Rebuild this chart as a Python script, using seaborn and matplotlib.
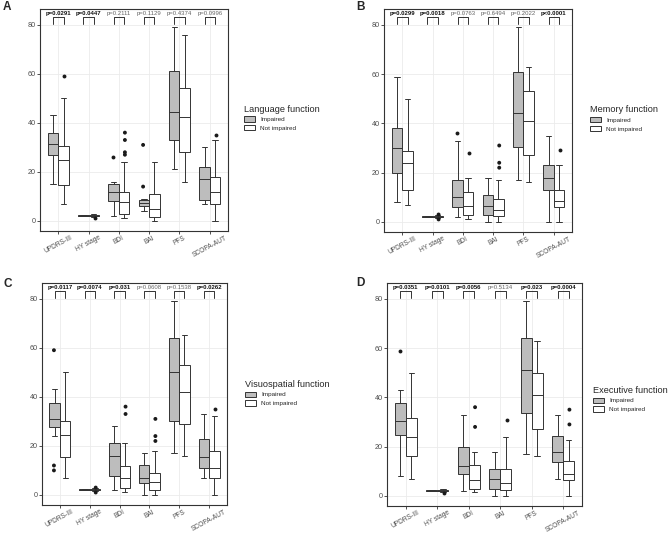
import pandas as pd
import matplotlib.pyplot as plt
import seaborn as sns

sns.set_theme(style="whitegrid")
plt.rcParams["font.family"] = ["Liberation Sans", "DejaVu Sans"]

VARIABLES = ["UPDRS-III", "HY stage", "BDI", "BAI", "PFS", "SCOPA-AUT"]
GROUPS = ["Impaired", "Not impaired"]

# box stats per variable: [lower whisker, Q1, median, Q3, upper whisker]
lang_imp = [[15, 27, 31.5, 36, 43], [2, 2, 2, 2.5, 2.5], [2, 8, 12, 15, 16],
            [4, 6, 7.3, 8.4, 9], [21, 33, 44.5, 61, 79], [7, 8.6, 17.3, 22, 30]]
lang_not = [[7, 14.5, 25, 30.5, 50], [1.5, 2, 2, 2.5, 3], [1, 3, 7.6, 12, 24],
            [0, 1.8, 4.8, 11, 24], [16, 28.3, 42.3, 54, 76], [0, 7, 12, 18, 33]]
lang_fl_imp = [[], [], [26], [31, 14], [], []]
lang_fl_not = [[59], [1], [36, 33, 28, 27], [], [], [35]]
lang_p = ["p=0.0291", "p=0.0447", "p=0.2111", "p=0.1129", "p=0.4374", "p=0.0996"]

mem_imp = [[8, 20, 30, 38, 59], [2, 2, 2, 2.5, 2.5], [2, 6, 10, 17, 33],
           [0, 2.6, 6.3, 11, 18], [17, 30.4, 44, 61, 79], [0, 13, 18, 23, 35]]
mem_not = [[7, 13, 24, 28.7, 50], [1.5, 2, 2, 2.5, 3], [1, 3, 6.3, 12, 18],
           [0, 2.3, 5, 9.3, 17], [16, 27, 41, 53, 63], [0, 6, 8.4, 13, 23]]
mem_fl_imp = [[], [], [36], [], [], []]
mem_fl_not = [[], [1, 3], [28], [31, 24, 22], [], [29]]
mem_p = ["p=0.0299", "p=0.0018", "p=0.0763", "p=0.6494", "p=0.2022", "p<0.0001"]

vis_imp = [[24, 27.6, 31, 37.4, 43], [2, 2, 2, 2.5, 2.5], [2, 7.6, 16, 21, 28],
           [0, 5, 7, 12.4, 17], [17, 30, 50, 64, 79], [7, 11, 15.3, 23, 33]]
vis_not = [[7, 15.3, 24.3, 30, 50], [1.5, 2, 2, 2.5, 3], [1, 3, 7, 12, 21],
           [0, 2, 5.2, 9, 18], [16, 29, 42, 53, 65], [0, 7, 11, 18, 32]]
vis_fl_imp = [[59, 12, 10], [], [], [], [], []]
vis_fl_not = [[], [1, 3], [36, 33], [31, 24, 22], [], [35]]
vis_p = ["p=0.0117", "p=0.0074", "p=0.031", "p=0.0608", "p=0.1538", "p=0.0262"]

exe_imp = [[8, 24.7, 30.4, 37.6, 43], [2, 2, 2, 2.5, 2.5], [2, 9, 12, 19.7, 33],
           [0, 3, 7, 11, 18], [17, 33.6, 51, 64, 79], [7, 13.7, 18, 24.3, 33]]
exe_not = [[7, 16, 24, 31.5, 50], [1.5, 2, 2, 2.5, 3], [1.4, 3, 6.4, 12.4, 18],
           [0, 2.2, 5.2, 11, 24], [16, 27, 41, 50, 63], [0, 6.4, 9, 14, 22.8]]
exe_fl_imp = [[59], [], [], [], [], []]
exe_fl_not = [[], [1], [36, 28], [31], [], [35, 29]]
exe_p = ["p=0.0351", "p=0.0101", "p=0.0056", "p=0.5134", "p=0.023", "p=0.0004"]

GREY = "#bdbdbd"
LINE = "#333333"


def long_frame(imp, not_imp):
    rows = []
    for g, groups in zip(GROUPS, [imp, not_imp]):
        for var, vals in zip(VARIABLES, groups):
            for v in vals:
                rows.append((var, g, v))
    return pd.DataFrame(rows, columns=["variable", "group", "value"])


def panel(fig, rect, label, label_xy, title, imp, not_imp, fl_imp, fl_not, pvals, leg_anchor):
    ax = fig.add_axes(rect)
    box = long_frame(imp, not_imp)
    fl = long_frame(fl_imp, fl_not)
    sns.boxplot(data=box, x="variable", y="value", hue="group", order=VARIABLES,
                hue_order=GROUPS, palette={"Impaired": GREY, "Not impaired": "white"},
                saturation=1, linecolor=LINE, linewidth=0.7, width=0.7,
                whis=(0, 100), fliersize=0, ax=ax)
    sns.stripplot(data=fl, x="variable", y="value", hue="group", order=VARIABLES,
                  hue_order=GROUPS, palette={"Impaired": "#1a1a1a", "Not impaired": "#1a1a1a"},
                  dodge=True, jitter=False, size=2.8, linewidth=0, legend=False, ax=ax)

    # significance brackets
    for i, p in enumerate(pvals):
        ax.plot([i - 0.175, i - 0.175, i + 0.175, i + 0.175], [80.4, 83, 83, 80.4],
                color=LINE, lw=0.7)
        sig = float(p[2:]) < 0.05
        ax.text(i, 83.7, p, ha="center", va="bottom", fontsize=4.3,
                fontweight="bold" if sig else "normal",
                color="#111111" if sig else "#666666")

    ax.set_xlim(-0.6, 5.6)
    ax.set_ylim(-4.1, 86.4)
    ax.set_yticks([0, 20, 40, 60, 80])
    ax.set_xlabel("")
    ax.set_ylabel("")
    ax.grid(True, color="#ebebeb", lw=0.6)
    ax.set_axisbelow(True)
    for s in ax.spines.values():
        s.set_visible(True)
        s.set_color(LINE)
        s.set_linewidth(0.8)
    ax.tick_params(axis="y", left=True, length=2, width=0.6, color=LINE,
                   labelsize=5.2, labelcolor="#4d4d4d", pad=1)
    ax.tick_params(axis="x", bottom=True, length=2, width=0.6, color=LINE,
                   labelsize=4.8, labelcolor="#4d4d4d", pad=0.5)
    plt.setp(ax.get_xticklabels(), rotation=28, ha="center")

    sns.move_legend(ax, "center left", bbox_to_anchor=leg_anchor, title=title,
                    frameon=False, fontsize=4.6, title_fontsize=6.6, borderpad=0,
                    handlelength=1.7, handleheight=0.9, labelspacing=0.45,
                    handletextpad=0.8, alignment="left")

    fig.text(label_xy[0] / 669, 1 - label_xy[1] / 533, label, fontsize=8.5,
             fontweight="bold", ha="left", va="center")
    return ax


fig = plt.figure(figsize=(6.69, 5.33), dpi=100)

panel(fig, [40 / 669, 1 - 231 / 533, 188 / 669, 222 / 533], "A", (3, 7.5),
      "Language function", lang_imp, lang_not, lang_fl_imp, lang_fl_not, lang_p, (1.07, 0.51))
panel(fig, [384 / 669, 1 - 232 / 533, 188 / 669, 223 / 533], "B", (356, 7),
      "Memory function", mem_imp, mem_not, mem_fl_imp, mem_fl_not, mem_p, (1.08, 0.51))
panel(fig, [42 / 669, 1 - 505 / 533, 185 / 669, 222 / 533], "C", (3, 284),
      "Visuospatial function", vis_imp, vis_not, vis_fl_imp, vis_fl_not, vis_p, (1.08, 0.505))
panel(fig, [387 / 669, 1 - 506 / 533, 195 / 669, 223 / 533], "D", (356, 283),
      "Executive function", exe_imp, exe_not, exe_fl_imp, exe_fl_not, exe_p, (1.04, 0.48))

fig.savefig("out.png", dpi=100)
